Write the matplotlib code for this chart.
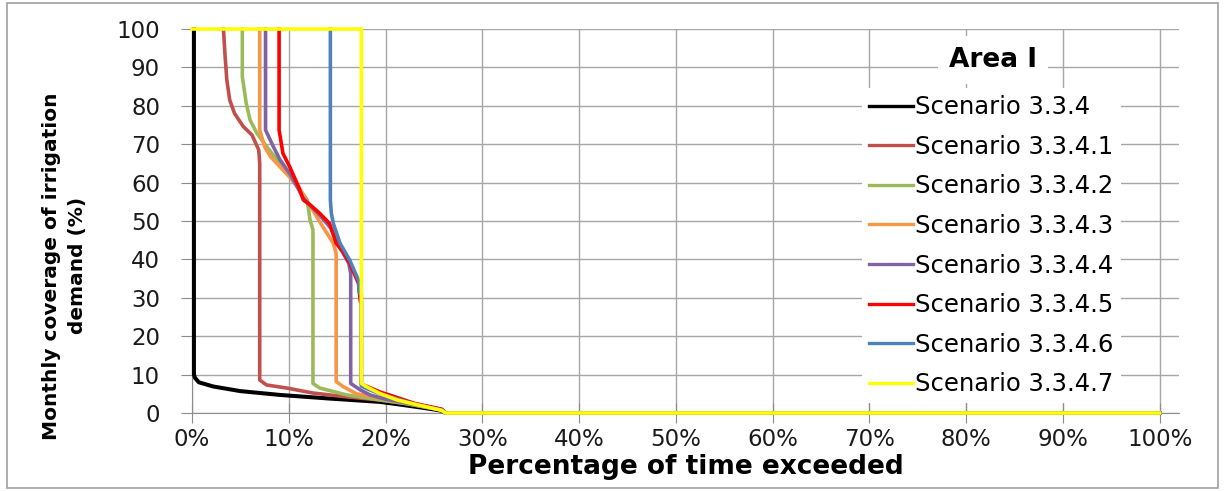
import numpy as np
import matplotlib.pyplot as plt
from matplotlib.ticker import PercentFormatter, MultipleLocator
from matplotlib.patches import Rectangle

# Duration curves (x: % of time exceeded, y: coverage %)
names = ["Scenario 3.3.4", "Scenario 3.3.4.1", "Scenario 3.3.4.2", "Scenario 3.3.4.3",
         "Scenario 3.3.4.4", "Scenario 3.3.4.5", "Scenario 3.3.4.6", "Scenario 3.3.4.7"]
colors = ["#000000", "#C0504D", "#9BBB59", "#F79646",
          "#8064A2", "#FF0000", "#4F81BD", "#FFFF00"]

x_334 = [0.2, 0.2, 0.3, 0.7, 2.2, 5.0, 9.1, 14.0, 19.4, 21.2, 24.0, 25.8, 26.2, 100]
y_334 = [100, 10, 9.2, 8.0, 6.9, 5.7, 4.7, 3.8, 2.9, 2.3, 1.3, 0.6, 0, 0]

x_3341 = [3.25, 3.4, 3.6, 3.9, 4.4, 5.3, 6.2, 6.9, 7.0, 7.0, 7.7, 9.8, 12.5, 16.0, 19.4, 22.0, 25.8, 26.2, 100]
y_3341 = [100, 93.7, 86.7, 81.5, 78.0, 74.6, 72.4, 68.5, 65.0, 8.6, 7.3, 6.5, 5.2, 4.2, 3.4, 2.5, 0.8, 0, 0]

x_3342 = [5.2, 5.2, 5.6, 6.0, 6.7, 7.7, 9.1, 10.1, 11.9, 12.2, 12.5, 12.5, 13.2, 16.0, 19.4, 22.0, 25.8, 26.2, 100]
y_3342 = [100, 87.6, 80.7, 76.3, 72.9, 69.4, 65.0, 61.5, 55.5, 50.3, 47.7, 7.7, 6.5, 4.7, 3.4, 2.5, 0.8, 0, 0]

x_3343 = [7.0, 7.0, 7.5, 8.1, 9.5, 11.0, 12.2, 13.2, 14.6, 14.9, 14.9, 15.6, 17.0, 19.4, 22.0, 25.8, 26.2, 100]
y_3343 = [100, 73.7, 69.4, 66.8, 63.0, 59.0, 54.0, 49.8, 44.2, 41.6, 8.2, 6.9, 5.0, 3.9, 2.8, 0.9, 0, 0]

x_3344 = [7.6, 7.6, 8.4, 9.1, 10.2, 11.5, 13.2, 14.4, 15.2, 16.2, 16.4, 16.4, 17.4, 18.4, 20.0, 22.0, 25.8, 26.2, 100]
y_3344 = [100, 73.7, 69.4, 65.9, 62.0, 56.0, 51.5, 48.0, 43.5, 39.0, 36.4, 7.7, 6.0, 4.7, 3.6, 2.7, 0.9, 0, 0]

x_3345 = [9.0, 9.0, 9.4, 10.1, 11.0, 11.5, 12.3, 13.2, 14.2, 14.9, 15.6, 16.3, 17.2, 17.4, 17.5, 17.5,
          18.2, 19.4, 21.0, 23.0, 25.8, 26.2, 100]
y_3345 = [100, 73.7, 67.6, 64.1, 59.0, 55.5, 54.0, 52.0, 49.4, 44.2, 42.0, 39.0, 33.8, 29.0, 29.0, 7.5,
          6.8, 5.5, 4.2, 2.5, 1.0, 0, 0]

x_3346 = [14.3, 14.3, 14.4, 14.6, 15.3, 16.3, 17.2, 17.3, 17.5, 17.5, 18.2, 19.4, 21.0, 23.0, 25.8, 26.2, 100]
y_3346 = [100, 55.5, 52.0, 49.4, 44.2, 39.8, 34.6, 31.2, 31.0, 7.0, 6.2, 5.0, 3.8, 2.3, 0.8, 0, 0]

x_3347 = [0, 17.5, 17.5, 18.0, 19.4, 21.2, 23.0, 25.8, 26.2, 100]
y_3347 = [100, 100, 7.7, 6.9, 5.1, 3.4, 2.3, 0.7, 0, 0]

xs = [x_334, x_3341, x_3342, x_3343, x_3344, x_3345, x_3346, x_3347]
ys = [y_334, y_3341, y_3342, y_3343, y_3344, y_3345, y_3346, y_3347]

fig = plt.figure(figsize=(12.25, 4.91), dpi=100)
ax = fig.add_axes([192 / 1225, 1 - 413 / 491, (1179 - 192) / 1225, (413 - 29) / 491])

for i in range(len(names)):
    lw = 2.9 if i == 0 else 2.6
    ax.plot(xs[i], ys[i], color=colors[i], linewidth=lw, label=names[i],
            solid_joinstyle="round", clip_on=False, zorder=3 + i)

ax.set_xlim(0, 102)
ax.set_ylim(0, 100)
ax.yaxis.set_major_locator(MultipleLocator(10))
ax.set_xticks(np.arange(0, 101, 10))
ax.xaxis.set_major_formatter(PercentFormatter(100, decimals=0))
ax.grid(True, color="#A6A6A6", linewidth=1.0)
ax.set_axisbelow(True)

for s in ["top", "right"]:
    ax.spines[s].set_visible(False)
for s in ["left", "bottom"]:
    ax.spines[s].set_color("#8C8C8C")
ax.tick_params(axis="both", color="#8C8C8C", labelsize=16.5, labelcolor="#1a1a1a")
ax.tick_params(axis="x", direction="inout", length=14, pad=4)
ax.tick_params(axis="y", direction="out", length=8, pad=15)

ax.set_xlabel("Percentage of time exceeded", fontsize=19, fontweight="bold", labelpad=2)
ax.set_ylabel("Monthly coverage of irrigation\ndemand (%)", fontsize=14.5,
              fontweight="bold", linespacing=1.5)
ax.yaxis.set_label_coords(-0.106, 0.383)

leg = ax.legend(loc="upper left", bbox_to_anchor=(862 / 1225, 1 - 88 / 491),
                bbox_transform=fig.transFigure, fontsize=17.5, frameon=True,
                fancybox=False, handlelength=1.8, handletextpad=0.1,
                labelspacing=0.64, borderpad=0.3, borderaxespad=0)
leg.get_frame().set_facecolor("white")
leg.get_frame().set_edgecolor("none")
leg.get_frame().set_alpha(1)
leg.set_zorder(20)
for h in leg.get_lines():
    h.set_linewidth(2.4)

fig.text(993 / 1225, 1 - 60 / 491, "Area I", fontsize=19, fontweight="bold",
         ha="center", va="center", zorder=21,
         bbox=dict(facecolor="white", edgecolor="none", pad=8))

fig.patches.append(Rectangle((7 / 1225, 3 / 491), 1211 / 1225, 485 / 491,
                             transform=fig.transFigure, fill=False,
                             edgecolor="#A0A0A0", linewidth=1.2))

fig.savefig("out.png", dpi=100)
